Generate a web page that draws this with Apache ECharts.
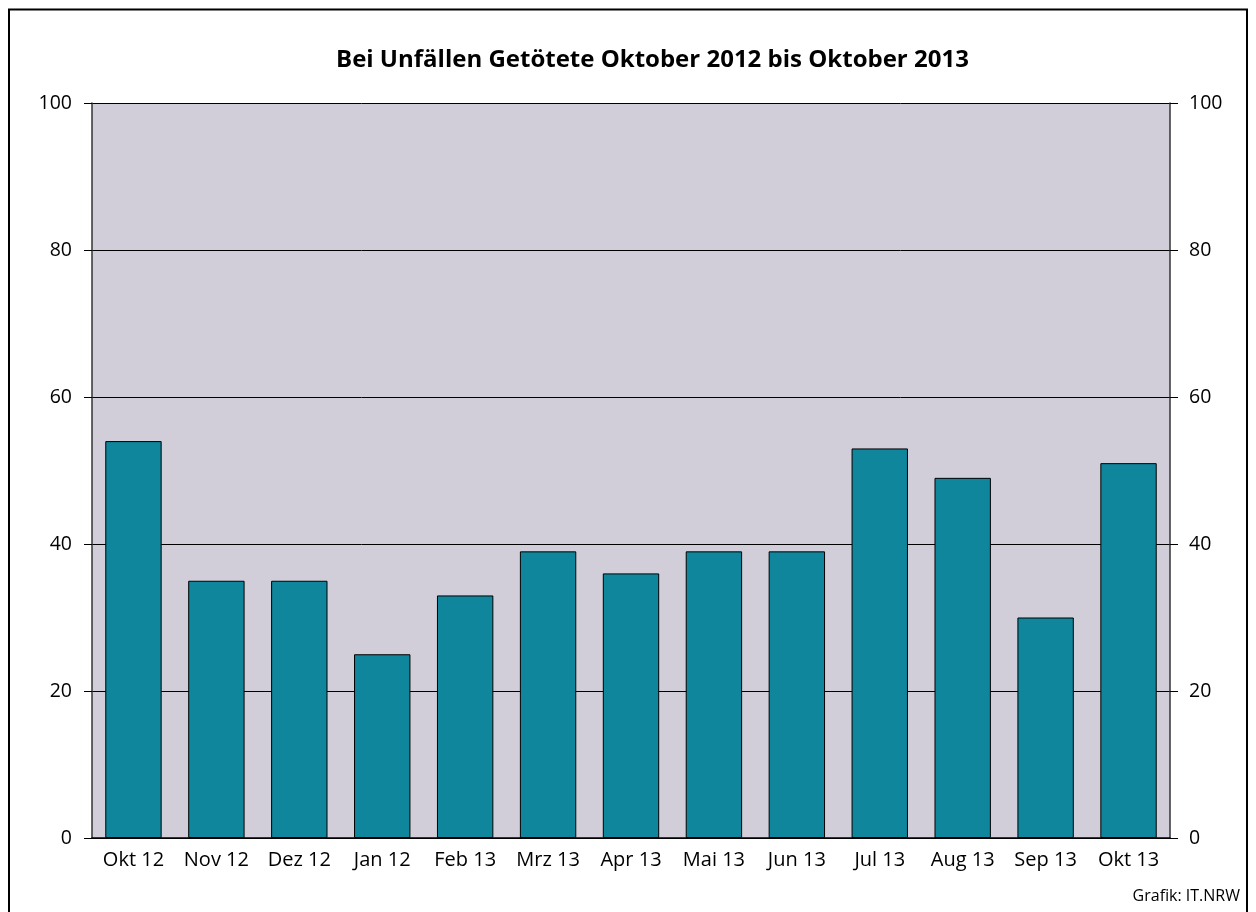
<!DOCTYPE html>
<html>
<head>
<meta charset="utf-8">
<script src="https://cdn.jsdelivr.net/npm/echarts@6/dist/echarts.min.js"></script>
<style>html,body{margin:0;padding:0;background:#fff}#c{width:1256px;height:912px}</style>
</head>
<body>
<div id="c"></div>
<script>
const titleText = 'Bei Unfällen Getötete Oktober 2012 bis Oktober 2013';
const categories = ['Okt 12','Nov 12','Dez 12','Jan 12','Feb 13','Mrz 13','Apr 13','Mai 13','Jun 13','Jul 13','Aug 13','Sep 13','Okt 13'];
const values = [54, 35, 35, 25, 33, 39, 36, 39, 39, 53, 49, 30, 51];
const yTicks = [0, 20, 40, 60, 80, 100];
const sourceText = 'Grafik: IT.NRW';

const font = '"Open Sans", "Noto Sans", sans-serif';
const chart = echarts.init(document.getElementById('c'), null, {renderer: 'canvas'});
const yAxisBase = {
  type: 'value', min: yTicks[0], max: yTicks[yTicks.length-1], interval: yTicks[1]-yTicks[0],
  axisLine: {show: true, lineStyle: {color: '#333', width: 1.5}},
  axisTick: {show: true, length: 8, lineStyle: {color: '#000', width: 1}},
  axisLabel: {color: '#000', fontSize: 19.5, fontFamily: font},
  splitLine: {show: true, lineStyle: {color: '#000', width: 1}}
};
chart.setOption({
  animation: false,
  title: {text: titleText, left: 331, top: 43, textStyle: {fontSize: 24, fontWeight: 'bold', color: '#000', fontFamily: font}},
  graphic: [
    {type: 'rect', shape: {x: 9, y: 9.5, width: 1238, height: 920}, style: {fill: 'none', stroke: '#000', lineWidth: 2}},
    {type: 'text', right: 16, bottom: 8, style: {text: sourceText, fontSize: 16, fontFamily: font, fill: '#000'}}
  ],
  grid: {left: 92, right: 86, top: 103, bottom: 74, show: true, backgroundColor: '#d1ced9', borderWidth: 0},
  xAxis: {
    type: 'category', data: categories,
    axisLine: {show: true, lineStyle: {color: '#000', width: 1.5}},
    axisTick: {show: false},
    axisLabel: {color: '#000', fontSize: 20, fontFamily: font, margin: 12, interval: 0, hideOverlap: false}
  },
  yAxis: [
    Object.assign({}, yAxisBase, {position: 'left', axisLabel: Object.assign({}, yAxisBase.axisLabel, {margin: 20})}),
    Object.assign({}, yAxisBase, {position: 'right', splitLine: {show: false}, axisLabel: Object.assign({}, yAxisBase.axisLabel, {margin: 19})})
  ],
  series: [{
    type: 'bar', data: values, barWidth: '68%',
    itemStyle: {color: '#0f869c', borderColor: '#000', borderWidth: 1}
  }]
});
</script>
</body>
</html>
